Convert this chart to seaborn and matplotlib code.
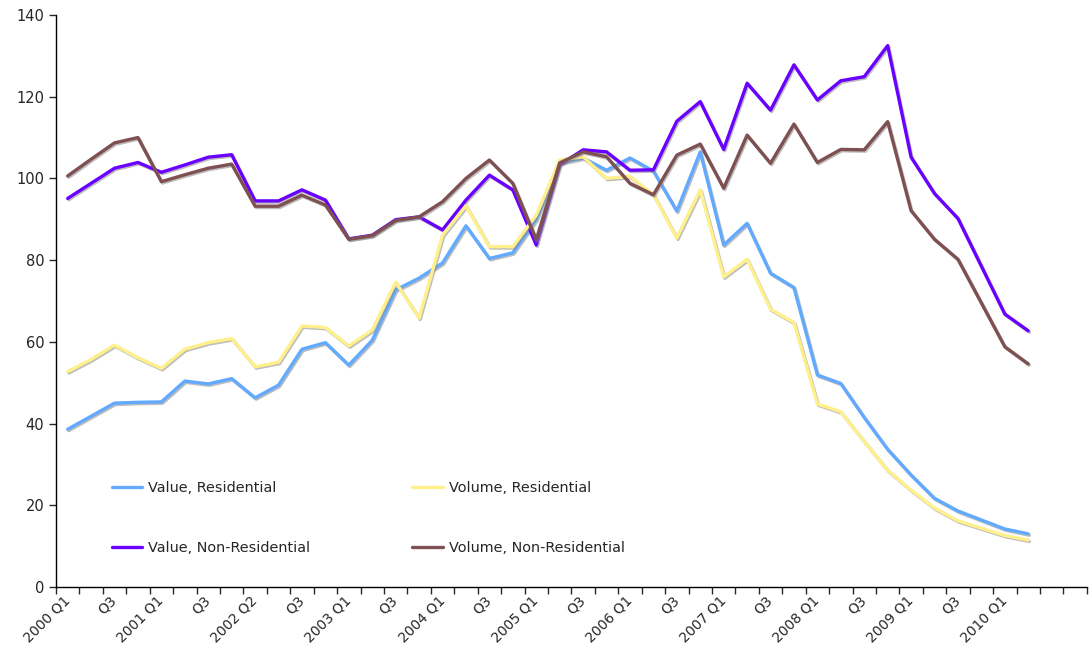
import matplotlib
matplotlib.use("Agg")
import matplotlib.pyplot as plt
import matplotlib.patheffects as pe
import seaborn as sns
import pandas as pd
import numpy as np

# quarters 2000 Q1 .. 2010 Q2 (42 points), axis has 44 category slots
n_slots = 44
tick_labels = ["2000 Q1", "", "Q3", "", "2001 Q1", "", "Q3", "", "2002 Q2", "", "Q3", "",
               "2003 Q1", "", "Q3", "", "2004 Q1", "", "Q3", "", "2005 Q1", "", "Q3", "",
               "2006 Q1", "", "Q3", "", "2007 Q1", "", "Q3", "", "2008 Q1", "", "Q3", "",
               "2009 Q1", "", "Q3", "", "2010 Q1", "", "", ""]

value_res = [38.6, 41.8, 45.0, 45.2, 45.3, 50.4, 49.7, 51.0, 46.3, 49.4,
             58.2, 59.8, 54.3, 60.4, 72.7, 75.6, 79.3, 88.4, 80.4, 81.8,
             90.0, 103.8, 105.0, 102.0, 105.0, 101.8, 92.0, 106.5, 83.7, 89.0,
             76.8, 73.3, 51.9, 49.8, 41.5, 33.7, 27.4, 21.7, 18.6, 16.4,
             14.2, 13.0]
volume_res = [52.7, 55.7, 59.2, 56.1, 53.5, 58.2, 59.8, 60.8, 53.9, 55.0,
              63.9, 63.5, 59.0, 62.9, 74.6, 65.8, 86.1, 93.3, 83.3, 83.3,
              91.0, 104.5, 105.3, 100.0, 100.5, 96.0, 85.4, 97.2, 75.9, 80.2,
              68.0, 64.7, 44.8, 42.9, 35.6, 28.6, 23.7, 19.3, 16.2, 14.4,
              12.6, 11.5]
value_nonres = [95.1, 98.8, 102.5, 103.9, 101.5, 103.3, 105.2, 105.8, 94.5, 94.5,
                97.2, 94.7, 85.2, 86.1, 89.9, 90.6, 87.4, 94.7, 100.8, 97.2,
                83.7, 103.3, 107.0, 106.5, 102.0, 102.1, 114.0, 118.8, 107.1, 123.3,
                116.7, 127.8, 119.2, 123.9, 124.9, 132.5, 105.2, 96.3, 90.2, 78.5,
                66.8, 62.7]
volume_nonres = [100.6, 104.7, 108.7, 110.0, 99.2, 100.9, 102.5, 103.5, 93.2, 93.2,
                 95.9, 93.5, 85.1, 86.0, 89.7, 90.6, 94.3, 100.0, 104.5, 98.8,
                 85.0, 103.8, 106.5, 105.3, 98.8, 96.0, 105.7, 108.4, 97.6, 110.6,
                 103.7, 113.3, 103.9, 107.1, 107.0, 113.9, 92.1, 85.1, 80.2, 69.5,
                 58.8, 54.6]

series_names = ["Value, Residential", "Value, Non-Residential",
                "Volume, Residential", "Volume, Non-Residential"]
series_vals = [value_res, value_nonres, volume_res, volume_nonres]
colors = ["#62AAFF", "#6A00FF", "#FFF08C", "#7E5052"]

frames = []
for name, vals in zip(series_names, series_vals):
    frames.append(pd.DataFrame({"idx": np.arange(len(vals)), "val": vals, "series": name}))
df = pd.concat(frames, ignore_index=True)

sns.set_style("white")
plt.rcParams["font.family"] = ["DejaVu Sans"]

fig = plt.figure(figsize=(10.89, 6.69), dpi=100)
ax = fig.add_axes([0.0514, 0.1226, 0.9466, 0.855])

sns.lineplot(data=df, x="idx", y="val", hue="series", hue_order=series_names,
             palette=colors, linewidth=2.4, ax=ax, sort=False)

for ln in ax.lines:
    ln.set_path_effects([pe.SimpleLineShadow(offset=(0.8, -1.0), shadow_color="#888888", alpha=0.55),
                         pe.Normal()])

ax.set_xlim(-0.5, n_slots - 0.5)
ax.set_ylim(0, 140)
ax.set_yticks(range(0, 141, 20))
ax.set_xticks(np.arange(-0.5, n_slots, 1.0))
ax.set_xticklabels([])
ax.set_xticks(np.arange(n_slots), minor=True)
ax.set_xticklabels(tick_labels, minor=True, rotation=45, ha="right",
                   va="center", rotation_mode="anchor", fontsize=10)
ax.tick_params(axis="x", which="minor", length=0, pad=8)
ax.tick_params(axis="x", which="major", length=5, width=1, direction="out", bottom=True)
ax.tick_params(axis="y", length=5, width=1, direction="out", left=True, labelsize=10.5)
ax.set_xlabel("")
ax.set_ylabel("")

for s in ["top", "right"]:
    ax.spines[s].set_visible(False)
for s in ["left", "bottom"]:
    ax.spines[s].set_color("black")
    ax.spines[s].set_linewidth(1)

leg = ax.legend(loc="upper left", bbox_to_anchor=(0.054, 0.185), ncol=2, frameon=False,
                fontsize=10.4, handlelength=2.1, handletextpad=0.4, labelspacing=3.2,
                columnspacing=7.1, borderpad=0, borderaxespad=0)
for ln in leg.get_lines():
    ln.set_path_effects([])
    ln.set_linewidth(2.4)

fig.savefig("out.png", dpi=100)
